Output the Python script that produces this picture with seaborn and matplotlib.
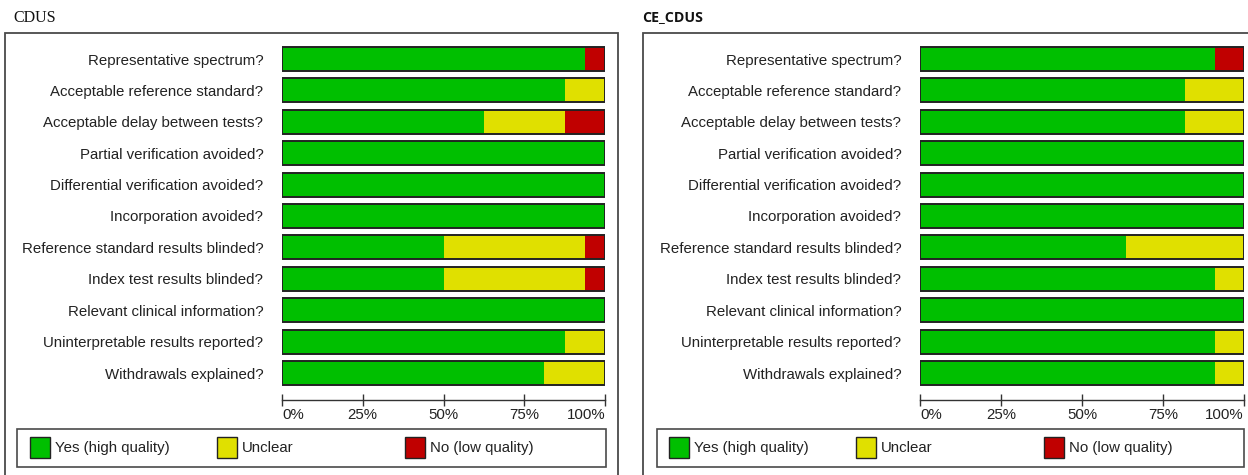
import matplotlib
matplotlib.use('Agg')
import matplotlib.pyplot as plt
from matplotlib.patches import Rectangle
import seaborn as sns

# QUADAS items (top to bottom)
items = [
    "Representative spectrum?",
    "Acceptable reference standard?",
    "Acceptable delay between tests?",
    "Partial verification avoided?",
    "Differential verification avoided?",
    "Incorporation avoided?",
    "Reference standard results blinded?",
    "Index test results blinded?",
    "Relevant clinical information?",
    "Uninterpretable results reported?",
    "Withdrawals explained?",
]

# CDUS (percent of studies)
cdus_yes = [93.75, 87.5, 62.5, 100, 100, 100, 50, 50, 100, 87.5, 81.25]
cdus_unclear = [0, 12.5, 25, 0, 0, 0, 43.75, 43.75, 0, 12.5, 18.75]
cdus_no = [6.25, 0, 12.5, 0, 0, 0, 6.25, 6.25, 0, 0, 0]

# CE_CDUS (percent of studies)
ce_yes = [90.9, 81.8, 81.8, 100, 100, 100, 63.6, 90.9, 100, 90.9, 90.9]
ce_unclear = [0, 18.2, 18.2, 0, 0, 0, 36.4, 9.1, 0, 9.1, 9.1]
ce_no = [9.1, 0, 0, 0, 0, 0, 0, 0, 0, 0, 0]

legend_labels = ["Yes (high quality)", "Unclear", "No (low quality)"]
ticks = [0, 25, 50, 75, 100]

GREEN, YELLOW, RED = "#00bf00", "#e0e000", "#c00000"
EDGE = "#222222"
TXT = "#222222"
FS = 10.8

sns.set_theme(style="white")
plt.rcParams['font.family'] = ['Liberation Sans', 'DejaVu Sans']

W, H = 1248, 475
fig = plt.figure(figsize=(W / 100, H / 100), dpi=100)


def px(x0, y0, x1, y1):
    # pixel box (top-left origin) -> figure fraction rect
    return [x0 / W, 1 - y1 / H, (x1 - x0) / W, (y1 - y0) / H]


def panel(x0, x1, yes, unclear, no):
    ax = fig.add_axes(px(x0, 43.3, x1, 388.7))
    cum_yu = [a + b for a, b in zip(yes, unclear)]
    total = [a + b for a, b in zip(cum_yu, no)]
    # stacked by overdrawing cumulative totals
    sns.barplot(x=total, y=items, orient="h", color=RED, saturation=1,
                width=0.76, errorbar=None, linewidth=0, ax=ax)
    sns.barplot(x=cum_yu, y=items, orient="h", color=YELLOW, saturation=1,
                width=0.76, errorbar=None, linewidth=0, ax=ax)
    sns.barplot(x=yes, y=items, orient="h", color=GREEN, saturation=1,
                width=0.76, errorbar=None, linewidth=0, ax=ax)
    sns.barplot(x=total, y=items, orient="h", fill=False, color=EDGE,
                width=0.76, errorbar=None, linewidth=1.4, ax=ax)
    ax.set_xlim(0, 100)
    ax.set_xlabel("")
    ax.set_ylabel("")
    for s in ["left", "top", "right"]:
        ax.spines[s].set_visible(False)
    ax.spines["bottom"].set_position(("outward", 8.2))
    ax.spines["bottom"].set_color("#333333")
    ax.spines["bottom"].set_linewidth(1.0)
    ax.set_xticks(ticks)
    ax.set_xticklabels([f"{t}%" for t in ticks])
    labs = ax.get_xticklabels()
    labs[0].set_ha("left")
    labs[-1].set_ha("right")
    ax.tick_params(axis="x", bottom=True, direction="inout", length=8, width=1.0,
                   color="#333333", labelsize=FS, labelcolor=TXT, pad=2)
    ax.tick_params(axis="y", left=False, length=0, pad=13.5, labelsize=FS,
                   labelcolor=TXT)
    ax.set_facecolor("none")
    return ax


def frame_and_legend(fx0, fx1, lx0, lx1, sq):
    fig.patches.append(Rectangle((fx0 / W, -0.05), (fx1 - fx0) / W, 1.05 - 33 / H,
                                 transform=fig.transFigure, fill=False,
                                 edgecolor="#4a4a4a", linewidth=1.3, zorder=0))
    fig.patches.append(Rectangle((lx0 / W, 1 - 467 / H), (lx1 - lx0) / W, 38 / H,
                                 transform=fig.transFigure, fill=False,
                                 edgecolor="#4a4a4a", linewidth=1.2))
    for x, c, lab in zip(sq, [GREEN, YELLOW, RED], legend_labels):
        fig.patches.append(Rectangle((x / W, 1 - 458 / H), 20 / W, 21 / H,
                                     transform=fig.transFigure, facecolor=c,
                                     edgecolor=EDGE, linewidth=1.0))
        fig.text((x + 25) / W, 1 - 448 / H, lab, ha="left", va="center",
                 fontsize=FS, color=TXT)


panel(282, 605, cdus_yes, cdus_unclear, cdus_no)
panel(920, 1244, ce_yes, ce_unclear, ce_no)

frame_and_legend(5, 618, 17, 606, [30, 217, 405])
frame_and_legend(643, 1260, 657, 1244, [669, 856, 1044])

fig.text(13 / W, 1 - 18.5 / H, "CDUS", ha="left", va="center", fontsize=11.5,
         color="#111111", family=["Liberation Serif", "DejaVu Serif"])
fig.text(642 / W, 1 - 17 / H, "CE_CDUS", ha="left", va="center", fontsize=10.2,
         fontweight="bold", color="#111111", family=["Open Sans", "DejaVu Sans"])

fig.savefig("out.png", dpi=100)
